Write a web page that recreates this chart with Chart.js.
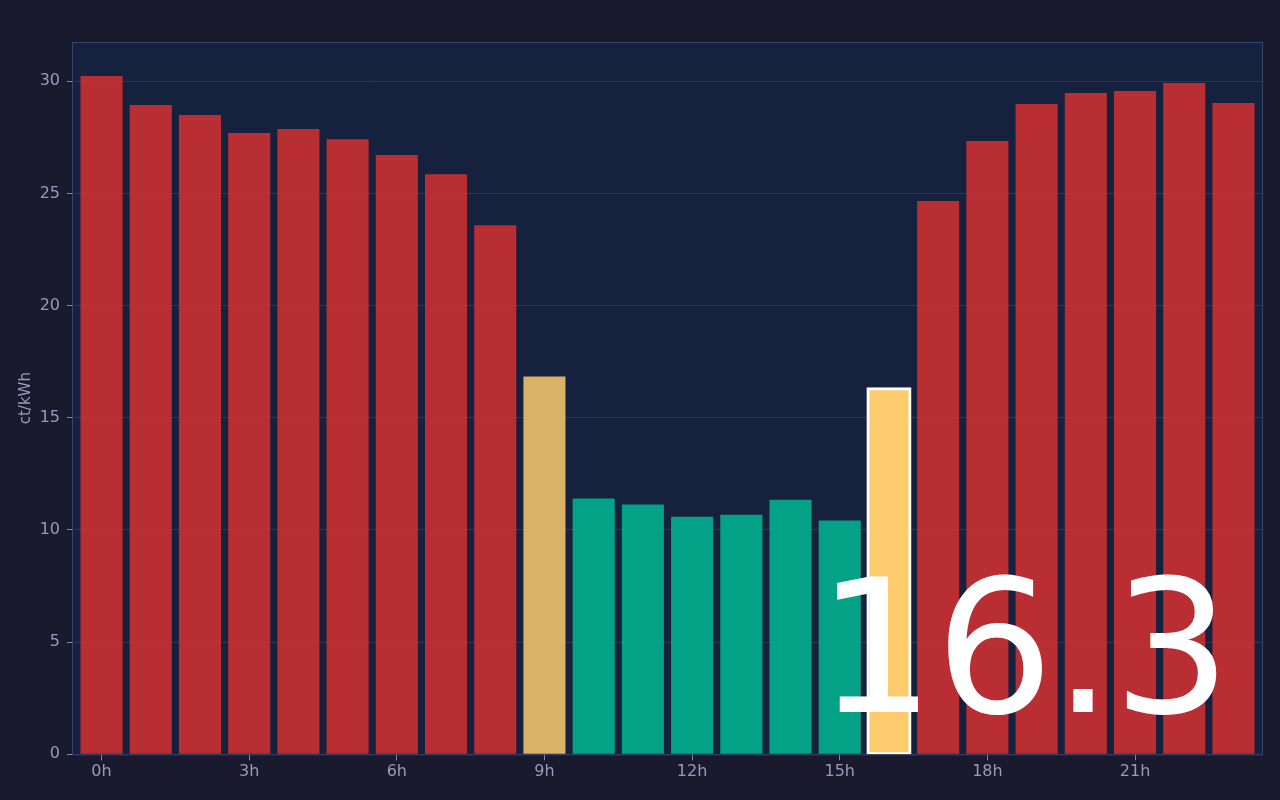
<!DOCTYPE html>
<html>
<head>
<meta charset="utf-8">
<script src="https://cdn.jsdelivr.net/npm/chart.js@4.4.1/dist/chart.umd.min.js"></script>
<style>
  html, body { margin: 0; padding: 0; background: #1a1a2e; }
  #wrap { width: 1280px; height: 800px; }
</style>
</head>
<body>
<div id="wrap"><canvas id="priceChart"></canvas></div>
<script>
// hourly prices, ct/kWh
const hours = [0, 1, 2, 3, 4, 5, 6, 7, 8, 9, 10, 11, 12, 13, 14, 15, 16, 17, 18, 19, 20, 21, 22, 23];
const prices = [30.24, 28.94, 28.50, 27.69, 27.87, 27.42, 26.71, 25.86, 23.58, 16.84, 11.40, 11.13,
                10.59, 10.68, 11.35, 10.42, 16.30, 24.66, 27.34, 28.99, 29.48, 29.57, 29.92, 29.03];
const tickHours = [0, 3, 6, 9, 12, 15, 18, 21];
const currentHour = 16;
const currentLabel = "16.3";
const cheapBelow = 12;
const expensiveAbove = 20;

const colors = {
  cheap: "0, 184, 148",
  mid: "253, 203, 110",
  high: "214, 48, 49"
};

function levelOf(p) {
  if (p < cheapBelow) return "cheap";
  if (p > expensiveAbove) return "high";
  return "mid";
}

const isNow = hours.map(h => h === currentHour);
const barColors = prices.map((p, i) => `rgba(${colors[levelOf(p)]}, ${isNow[i] ? 1 : 0.85})`);

Chart.defaults.font.family = "'DejaVu Sans', sans-serif";
Chart.defaults.color = "#9a9ab8";

const framePlugin = {
  id: "frame",
  beforeDraw(chart) {
    const { ctx, chartArea: a } = chart;
    ctx.save();
    ctx.fillStyle = "#16213e";
    ctx.fillRect(a.left, a.top, a.right - a.left, a.bottom - a.top);
    ctx.restore();
  },
  afterDatasetsDraw(chart) {
    const { ctx, chartArea: a } = chart;
    ctx.save();
    ctx.strokeStyle = "#34456b";
    ctx.lineWidth = 1;
    ctx.strokeRect(a.left + 0.5, a.top + 0.5, a.right - a.left - 1, a.bottom - a.top);
    ctx.restore();
  },
  afterDraw(chart) {
    // big readout of the current price
    const { ctx, chartArea: a } = chart;
    ctx.save();
    ctx.fillStyle = "#ffffff";
    ctx.font = "186px 'DejaVu Sans'";
    ctx.textAlign = "right";
    ctx.textBaseline = "alphabetic";
    ctx.fillText(currentLabel, a.right - 32, a.bottom - 42);
    ctx.restore();
  }
};

new Chart(document.getElementById("priceChart"), {
  type: "bar",
  data: {
    datasets: [{
      label: "ct/kWh",
      data: hours.map((h, i) => ({ x: h, y: prices[i] })),
      backgroundColor: barColors,
      borderColor: "#ffffff",
      borderWidth: isNow.map(n => (n ? 3 : 0)),
      inflateAmount: isNow.map(n => (n ? 1.5 : 0)),
      borderSkipped: false,
      barPercentage: 0.95,
      categoryPercentage: 0.9
    }]
  },
  options: {
    responsive: true,
    maintainAspectRatio: false,
    animation: false,
    layout: { padding: { top: 42, right: 17, left: 9, bottom: 16.5 } },
    plugins: { legend: { display: false }, tooltip: { enabled: false } },
    scales: {
      x: {
        type: "linear",
        min: -0.6,
        max: 23.6,
        offset: false,
        afterBuildTicks(scale) {
          scale.ticks = tickHours.map(v => ({ value: v }));
        },
        ticks: {
          font: { size: 16 },
          padding: 2,
          callback: v => v + "h"
        },
        grid: { offset: false, drawOnChartArea: false, tickLength: 6, tickColor: "#8a8aa8" },
        border: { display: false }
      },
      y: {
        min: 0,
        max: Math.max(...prices) * 1.05,
        afterFit(scale) {
          scale.width = 63;
        },
        ticks: { stepSize: 5, includeBounds: false, font: { size: 16 }, padding: 7 },
        grid: { color: "rgba(255, 255, 255, 0.1)", tickLength: 5, tickColor: "#8a8aa8" },
        border: { display: false },
        title: { display: true, text: "ct/kWh", font: { size: 15 }, padding: { top: 8, bottom: 0 } }
      }
    }
  },
  plugins: [framePlugin]
});
</script>
</body>
</html>
